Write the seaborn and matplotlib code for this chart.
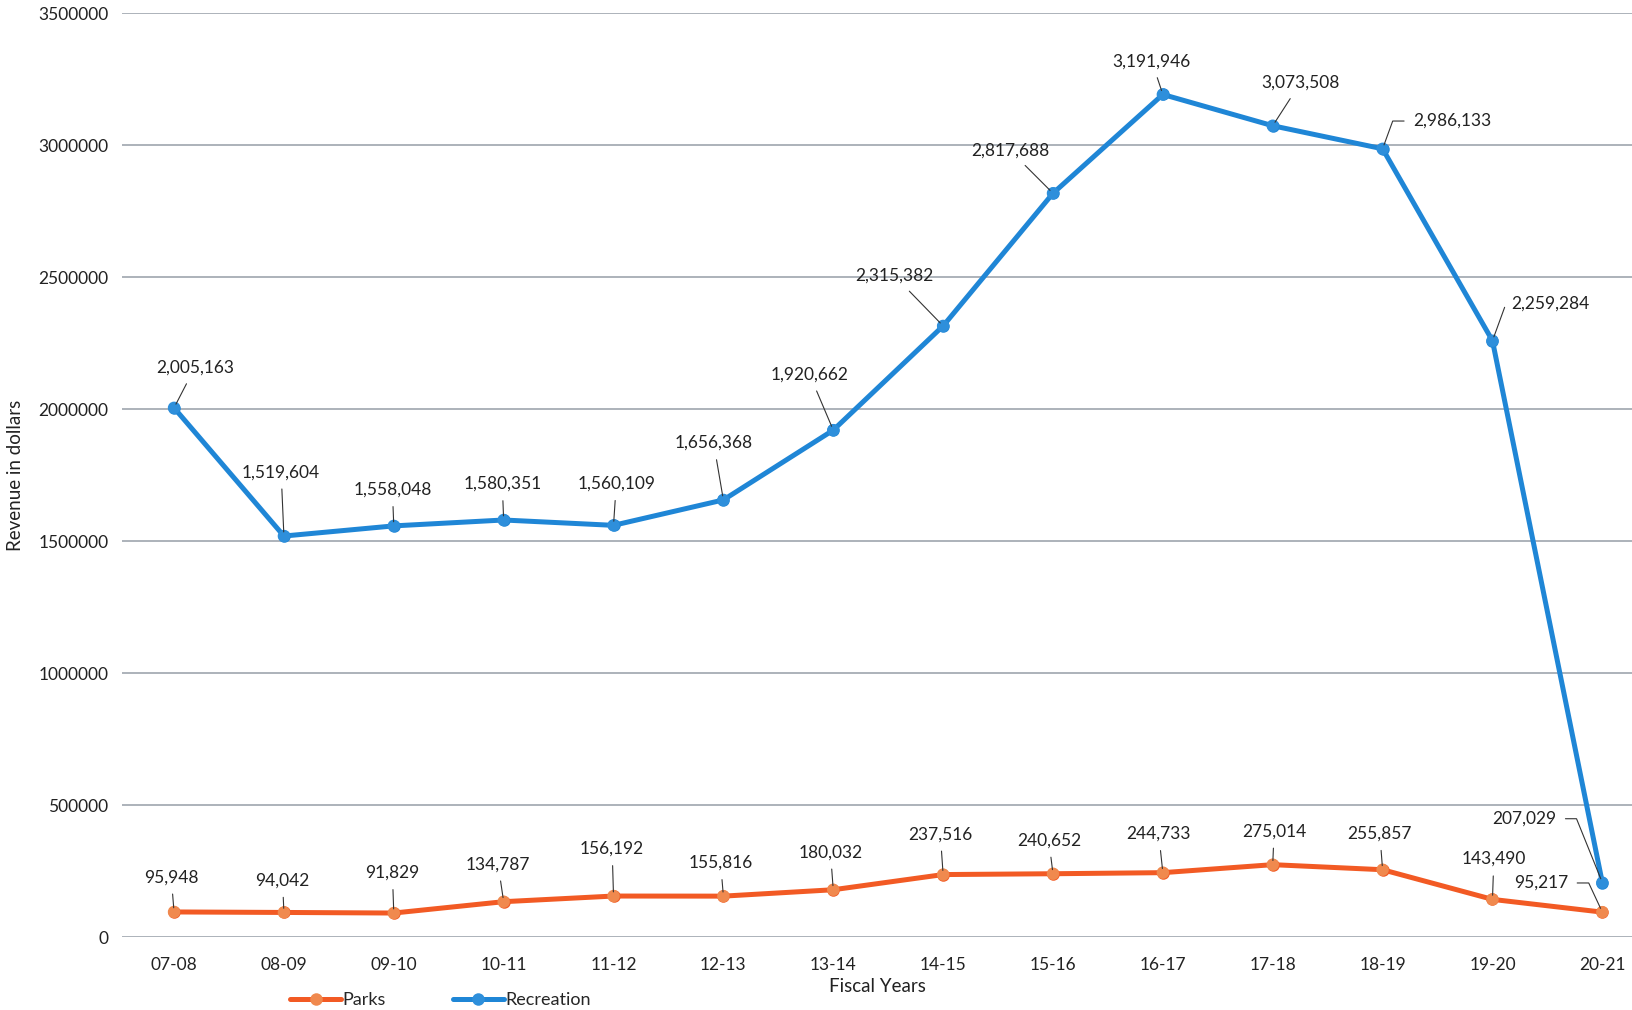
import numpy as np
import pandas as pd
import seaborn as sns
import matplotlib.pyplot as plt

# Revenue by fiscal year
years = ['07-08', '08-09', '09-10', '10-11', '11-12', '12-13', '13-14',
         '14-15', '15-16', '16-17', '17-18', '18-19', '19-20', '20-21']
parks = [95948, 94042, 91829, 134787, 156192, 155816, 180032,
         237516, 240652, 244733, 275014, 255857, 143490, 95217]
recreation = [2005163, 1519604, 1558048, 1580351, 1560109, 1656368, 1920662,
              2315382, 2817688, 3191946, 3073508, 2986133, 2259284, 207029]
yticks = [0, 500000, 1000000, 1500000, 2000000, 2500000, 3000000, 3500000]

# label offsets (points) for the data labels, and elbow angle of the leader (None = straight)
rec_offsets = [(15, 29), (-2, 46), (-1, 26), (-1, 26), (2, 30), (-7, 41), (-17, 40),
               (-35, 36), (-31, 31), (-8, 24), (20, 31), (50, 20), (42, 27), (-56, 46)]
rec_elbow = [None] * 11 + [70, 70, 112]
parks_offsets = [(-2, 25), (-1, 23), (-1, 29), (-4, 27), (-1, 34), (-2, 24), (-2, 27),
                 (-2, 29), (-3, 24), (-3, 28), (1, 24), (-2, 26), (1, 29), (-44, 21)]
parks_elbow = [None] * 13 + [115]

df = pd.DataFrame({
    'year': years * 2,
    'revenue': parks + recreation,
    'series': ['Parks'] * len(years) + ['Recreation'] * len(years),
})
df['x'] = list(range(len(years))) * 2

sns.set_style('white')
plt.rcParams['font.family'] = ['Lato', 'DejaVu Sans']

fig = plt.figure(figsize=(16.32, 10.1), dpi=100)
ax = fig.add_axes([0.075, 0.072, 0.925, 0.915])

palette = {'Parks': '#F25A24', 'Recreation': '#1F86D6'}
sns.lineplot(data=df, x='x', y='revenue', hue='series', palette=palette,
             marker='o', markersize=9, linewidth=3.6, ax=ax, legend=False,
             markeredgewidth=0, clip_on=False, zorder=3)
# lighter marker faces on top
for name, col in [('Parks', '#F0894E'), ('Recreation', '#2E8FDB')]:
    sub = df[df['series'] == name]
    ax.scatter(sub['x'], sub['revenue'], s=80, color=col, zorder=4, clip_on=False,
               edgecolors='none')

ax.set_xlim(-0.47, 13.27)
ax.set_ylim(0, 3500000)
ax.set_yticks(yticks)
ax.set_yticklabels([str(v) for v in yticks])
ax.set_xticks(range(len(years)))
ax.set_xticklabels(years)
ax.tick_params(axis='x', labelsize=12.5, colors='#222222', length=0, pad=14)
ax.tick_params(axis='y', labelsize=12.5, colors='#222222', length=0, pad=10)
ax.yaxis.grid(True, color='#9EA5AE', linewidth=1.2)
ax.xaxis.grid(False)
for s in ax.spines.values():
    s.set_visible(False)

ax.set_xlabel('Fiscal Years', fontsize=13.5, color='#222222', labelpad=4)
ax.set_ylabel('Revenue in dollars', fontsize=13.5, color='#222222', labelpad=10)

def add_labels(values, offsets, elbows):
    for i, (v, off, elb) in enumerate(zip(values, offsets, elbows)):
        conn = f'angle,angleA=0,angleB={elb},rad=0' if elb else 'arc3'
        ax.annotate(f'{v:,}', xy=(i, v), xytext=off, textcoords='offset points',
                    ha='center', va='center', fontsize=12.5, color='#222222',
                    arrowprops=dict(arrowstyle='-', color='#333333', lw=0.8,
                                    shrinkA=4, shrinkB=3, connectionstyle=conn),
                    zorder=5)

add_labels(recreation, rec_offsets, rec_elbow)
add_labels(parks, parks_offsets, parks_elbow)

handles = [plt.Line2D([], [], color=palette['Parks'], lw=3.6, marker='o', markersize=9,
                      markerfacecolor='#F0894E', markeredgewidth=0),
           plt.Line2D([], [], color=palette['Recreation'], lw=3.6, marker='o', markersize=9,
                      markerfacecolor='#2E8FDB', markeredgewidth=0)]
fig.legend(handles, ['Parks', 'Recreation'], loc='lower left', bbox_to_anchor=(0.168, -0.014),
           ncol=2, frameon=False, fontsize=13, handlelength=2.8, columnspacing=3.7,
           handletextpad=0.1)

fig.savefig('out.png', dpi=100)
